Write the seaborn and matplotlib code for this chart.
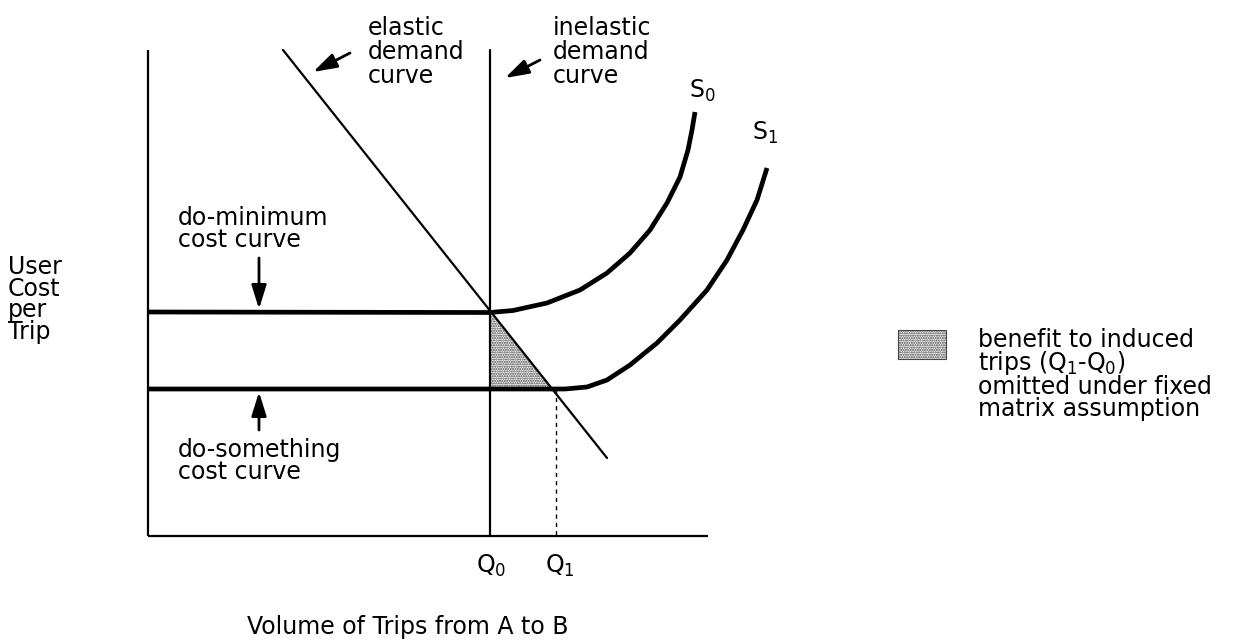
import numpy as np
import pandas as pd
import matplotlib
matplotlib.use("Agg")
import matplotlib.pyplot as plt
import seaborn as sns

# schematic values (volume / cost in arbitrary units)
q0 = 6.84
q1 = 8.16
cost_do_min = 4.48
cost_do_sth = 2.94
axis_top = 9.72
axis_right = 11.2

elastic_x = [2.70, 9.18]
elastic_y = [9.72, 1.56]

s0_x = [6.84, 7.30, 7.98, 8.64, 9.18, 9.64, 10.04, 10.38, 10.64, 10.80, 10.88, 10.94]
s0_y = [4.47, 4.51, 4.66, 4.92, 5.26, 5.66, 6.12, 6.66, 7.18, 7.72, 8.12, 8.48]

s1_x = [8.34, 8.78, 9.18, 9.64, 10.18, 10.64, 11.18, 11.58, 11.90, 12.18, 12.38]
s1_y = [2.94, 2.98, 3.12, 3.42, 3.86, 4.32, 4.92, 5.52, 6.12, 6.72, 7.36]

sns.set_style("white")
plt.rcParams['font.family'] = ['DejaVu Sans']
plt.rcParams['text.color'] = 'black'
plt.rcParams['hatch.linewidth'] = 1.0

W, H = 1234, 641
fig = plt.figure(figsize=(W / 100, H / 100), dpi=100)
ax = fig.add_axes([0, 0, 1, 1])
ax.set_xlim(-148 / 50, (W - 148) / 50)
ax.set_ylim((536 - H) / 50, 536 / 50)
ax.axis('off')

FS = 17
thin = 1.6
thick = 3.4

# axes drawn as lines
ax.plot([0, 0], [0, axis_top], color='black', lw=thin, solid_capstyle='butt')
ax.plot([0, axis_right], [0, 0], color='black', lw=thin, solid_capstyle='butt')

# demand curves
ax.plot([q0, q0], [0, axis_top], color='black', lw=thin)
sns.lineplot(x=elastic_x, y=elastic_y, color='black', lw=thin, ax=ax)

# cost curves
dmin = pd.DataFrame({'x': [0] + s0_x, 'y': [cost_do_min] + s0_y})
dsth = pd.DataFrame({'x': [0] + s1_x, 'y': [cost_do_sth] + s1_y})
sns.lineplot(data=dmin, x='x', y='y', sort=False, estimator=None, color='black',
             lw=thick, ax=ax, solid_joinstyle='round', solid_capstyle='butt')
sns.lineplot(data=dsth, x='x', y='y', sort=False, estimator=None, color='black',
             lw=thick, ax=ax, solid_joinstyle='round', solid_capstyle='butt')

# shaded triangle (benefit to induced trips)
slope = (elastic_y[1] - elastic_y[0]) / (elastic_x[1] - elastic_x[0])
x_cross = elastic_x[0] + (cost_do_sth - elastic_y[0]) / slope
ax.fill([q0, q0, x_cross], [cost_do_min, cost_do_sth, cost_do_sth],
        facecolor='#f4f4f4', edgecolor='#444444', hatch='.......', lw=0, zorder=1)

# Q1 dashed drop line
ax.plot([q1, q1], [cost_do_sth, 0], color='black', lw=1.0, ls=(0, (3, 3)))

def px(x, y):
    return ((x - 148) / 50, (536 - y) / 50)

arrow = dict(arrowstyle='-|>,head_length=0.8,head_width=0.25', color='black', lw=2.0,
             mutation_scale=18, shrinkA=0, shrinkB=0)
ax.annotate('', xy=px(313, 72), xytext=px(350, 53), arrowprops=arrow)
ax.annotate('', xy=px(505, 78), xytext=px(540, 60), arrowprops=arrow)
ax.annotate('', xy=px(259, 309), xytext=px(259, 258), arrowprops=arrow)
ax.annotate('', xy=px(259, 392), xytext=px(259, 430), arrowprops=arrow)

def label(x, y, s, ha='left', va='top', ls=0.88):
    ax.text(*px(x, y), s, ha=ha, va=va, fontsize=FS, linespacing=ls)

label(368, 16, 'elastic\ndemand\ncurve', ls=1.0)
label(553, 16, 'inelastic\ndemand\ncurve', ls=1.0)
label(178, 206, 'do-minimum\ncost curve')
label(178, 438, 'do-something\ncost curve')
label(8, 255, 'User\nCost\nper\nTrip')
label(689, 78, r'S$_\mathregular{0}$')
label(752, 120, r'S$_\mathregular{1}$')
label(491, 553, r'Q$_\mathregular{0}$', ha='center')
label(560, 553, r'Q$_\mathregular{1}$', ha='center')
label(408, 615, 'Volume of Trips from A to B', ha='center')

# legend patch
lx0, ly0 = px(898, 359)
lx1, ly1 = px(946, 330)
ax.fill([lx0, lx1, lx1, lx0], [ly0, ly0, ly1, ly1], facecolor='#f4f4f4',
        edgecolor='#444444', hatch='.......', lw=0.8)
label(978, 328, 'benefit to induced\ntrips (Q$_\\mathregular{1}$-Q$_\\mathregular{0}$)\n'
      'omitted under fixed\nmatrix assumption')

fig.savefig('out.png', dpi=100, facecolor='white')
